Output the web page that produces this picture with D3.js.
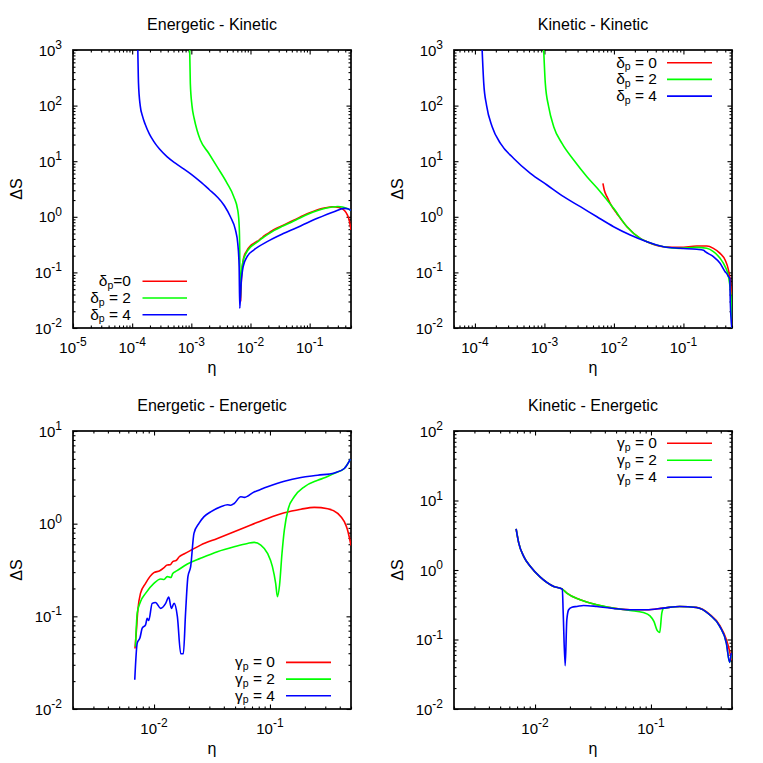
<!DOCTYPE html>
<html>
<head>
<meta charset="utf-8">
<script src="https://cdn.jsdelivr.net/npm/d3@7"></script>
<style>
body { margin: 0; background: #fff; }
svg { font-family: "Liberation Sans", Arial, Helvetica, sans-serif; }
text { white-space: pre; }
</style>
</head>
<body>
<script>
// values as [eta, deltaS]

// Energetic - Kinetic
const ekD0 = [[6.8e-3, 0.03], [7.0e-3, 0.07], [7.25e-3, 0.12], [7.64e-3, 0.18], [8.45e-3, 0.235], [9.97e-3, 0.3], [0.0112, 0.33], [0.0122, 0.35], [0.013, 0.365], [0.0138, 0.375], [0.0148, 0.405], [0.0158, 0.42], [0.0168, 0.45], [0.0181, 0.475], [0.021, 0.525], [0.0252, 0.59], [0.0352, 0.7], [0.0491, 0.83], [0.0684, 0.98], [0.0953, 1.16], [0.133, 1.33], [0.185, 1.45], [0.241, 1.52], [0.315, 1.47], [0.384, 1.31], [0.438, 1.06], [0.465, 0.88], [0.485, 0.7], [0.5, 0.58]];
const ekD2 = [[9.38e-4, 1000], [9.62e-4, 251], [1.026e-3, 100], [1.12e-3, 58], [1.25e-3, 36], [1.42e-3, 24], [1.97e-3, 13.9], [2.72e-3, 7.98], [4.03e-3, 4.0], [5.22e-3, 2.3], [6.09e-3, 1.32], [6.45e-3, 0.664], [6.58e-3, 0.25], [6.63e-3, 0.06], [6.7e-3, 0.03], [6.85e-3, 0.06], [7.1e-3, 0.11], [7.5e-3, 0.16], [8.3e-3, 0.215], [9.97e-3, 0.285], [0.0115, 0.32], [0.013, 0.35], [0.0145, 0.385], [0.0162, 0.42], [0.0181, 0.455], [0.0252, 0.57], [0.0352, 0.68], [0.0491, 0.8], [0.0684, 0.95], [0.0953, 1.12], [0.133, 1.29], [0.185, 1.42], [0.241, 1.5], [0.3, 1.53], [0.36, 1.5], [0.42, 1.42], [0.5, 1.3]];
const ekD4 = [[1.247e-4, 1000], [1.28e-4, 251], [1.368e-4, 100], [1.5e-4, 64], [1.66e-4, 46], [1.95e-4, 31], [2.3e-4, 23], [2.9e-4, 16.5], [3.87e-4, 12.1], [5.3e-4, 9.3], [7.41e-4, 7.3], [1.0e-3, 5.8], [1.42e-3, 4.28], [2.0e-3, 3.1], [2.72e-3, 2.3], [3.6e-3, 1.6], [4.58e-3, 1.0], [5.57e-3, 0.58], [6.09e-3, 0.333], [6.43e-3, 0.127], [6.59e-3, 0.0226], [6.95e-3, 0.0635], [7.52e-3, 0.127], [8.77e-3, 0.192], [0.0114, 0.253], [0.0191, 0.357], [0.0367, 0.505], [0.0703, 0.684], [0.135, 0.938], [0.258, 1.236], [0.382, 1.42], [0.44, 1.4], [0.5, 1.3]];

// Kinetic - Kinetic
const kkD0 = [[6.95e-3, 4.0], [7.26e-3, 3.03], [7.94e-3, 2.3], [9.38e-3, 1.52], [0.011, 1.15], [0.0154, 0.664], [0.0239, 0.41], [0.0298, 0.357], [0.0518, 0.29], [0.0897, 0.282], [0.156, 0.298], [0.217, 0.298], [0.27, 0.271], [0.337, 0.22], [0.398, 0.167], [0.445, 0.11], [0.47, 0.073], [0.485, 0.05], [0.497, 0.04]];
const kkD2 = [[9.77e-4, 1000], [1.03e-3, 251], [1.15e-3, 95.7], [1.36e-3, 41.8], [1.79e-3, 20.9], [2.64e-3, 10.5], [4.09e-3, 5.26], [6.37e-3, 2.83], [9.89e-3, 1.42], [0.0154, 0.664], [0.0239, 0.41], [0.0298, 0.357], [0.0518, 0.29], [0.0897, 0.271], [0.156, 0.282], [0.217, 0.271], [0.27, 0.236], [0.337, 0.179], [0.398, 0.127], [0.445, 0.0838], [0.485, 0.0319], [0.497, 0.0101]];
const kkD4 = [[1.27e-4, 1000], [1.34e-4, 251], [1.47e-4, 101], [1.77e-4, 41.8], [2.33e-4, 20.9], [3.62e-4, 11.2], [6.28e-4, 6.04], [1.09e-3, 3.73], [1.89e-3, 2.3], [3.29e-3, 1.52], [5.7e-3, 1.0], [9.89e-3, 0.664], [0.0172, 0.471], [0.0298, 0.357], [0.0518, 0.29], [0.0897, 0.271], [0.156, 0.26], [0.195, 0.25], [0.206, 0.236], [0.27, 0.192], [0.337, 0.146], [0.398, 0.103], [0.42, 0.095], [0.445, 0.084], [0.465, 0.078], [0.472, 0.032], [0.497, 0.0101]];

// Energetic - Energetic
const eeG0 = [[6.85e-3, 0.045], [7.02e-3, 0.0658], [7.25e-3, 0.117], [7.64e-3, 0.177], [8.45e-3, 0.227], [9.97e-3, 0.296], [0.0112, 0.31], [0.0122, 0.335], [0.013, 0.358], [0.0138, 0.36], [0.0145, 0.39], [0.0155, 0.4], [0.0165, 0.44], [0.0181, 0.47], [0.021, 0.52], [0.0252, 0.587], [0.0352, 0.693], [0.0491, 0.818], [0.0684, 0.966], [0.0953, 1.14], [0.133, 1.31], [0.185, 1.43], [0.241, 1.5], [0.315, 1.45], [0.384, 1.29], [0.438, 1.05], [0.465, 0.87], [0.485, 0.7], [0.5, 0.58]];
const eeG2 = [[6.92e-3, 0.047], [7.16e-3, 0.108], [7.64e-3, 0.144], [8.45e-3, 0.177], [9.97e-3, 0.227], [0.0114, 0.253], [0.0122, 0.25], [0.013, 0.268], [0.014, 0.262], [0.0145, 0.29], [0.0158, 0.311], [0.0194, 0.367], [0.0252, 0.423], [0.0352, 0.499], [0.0491, 0.564], [0.064, 0.612], [0.073, 0.628], [0.0834, 0.588], [0.0953, 0.479], [0.105, 0.344], [0.112, 0.227], [0.116, 0.163], [0.121, 0.218], [0.127, 0.479], [0.133, 0.853], [0.144, 1.46], [0.162, 1.95], [0.198, 2.5], [0.258, 2.94], [0.3, 3.15], [0.36, 3.5], [0.438, 3.94], [0.494, 4.96]];
const eeG4 = [[6.82e-3, 0.0207], [7.16e-3, 0.0514], [7.55e-3, 0.0582], [7.91e-3, 0.0745], [8.45e-3, 0.0809], [8.73e-3, 0.0955], [9.0e-3, 0.09], [9.64e-3, 0.138], [0.0103, 0.141], [0.0114, 0.122], [0.0126, 0.138], [0.0134, 0.161], [0.0141, 0.122], [0.0149, 0.138], [0.0159, 0.0995], [0.017, 0.0394], [0.0179, 0.0394], [0.0187, 0.108], [0.0196, 0.268], [0.0207, 0.344], [0.0221, 0.785], [0.0244, 1.006], [0.027, 1.19], [0.0308, 1.34], [0.0376, 1.52], [0.043, 1.6], [0.046, 1.58], [0.0491, 1.65], [0.056, 1.95], [0.06, 1.92], [0.073, 2.2], [0.08, 2.3], [0.0953, 2.5], [0.133, 2.87], [0.185, 3.15], [0.258, 3.33], [0.36, 3.53], [0.438, 3.94], [0.494, 4.96]];

// Kinetic - Energetic
const keG0 = [[6.87e-3, 3.91], [7.24e-3, 2.43], [8.0e-3, 1.56], [9.12e-3, 1.12], [0.0111, 0.789], [0.0145, 0.579], [0.0172, 0.531], [0.0188, 0.465], [0.0245, 0.373], [0.0341, 0.316], [0.0474, 0.283], [0.066, 0.268], [0.0918, 0.268], [0.128, 0.283], [0.177, 0.299], [0.247, 0.29], [0.321, 0.23], [0.392, 0.16], [0.447, 0.1], [0.475, 0.07], [0.49, 0.055], [0.497, 0.05]];
const keG2 = [[6.87e-3, 3.91], [7.24e-3, 2.43], [8.0e-3, 1.56], [9.12e-3, 1.12], [0.0111, 0.789], [0.0145, 0.579], [0.0172, 0.531], [0.0188, 0.465], [0.0245, 0.373], [0.0341, 0.316], [0.0474, 0.283], [0.066, 0.262], [0.0859, 0.245], [0.0981, 0.219], [0.106, 0.182], [0.113, 0.135], [0.119, 0.126], [0.124, 0.24], [0.129, 0.283], [0.177, 0.299], [0.247, 0.289], [0.321, 0.227], [0.392, 0.154], [0.447, 0.0889], [0.477, 0.0469], [0.493, 0.06]];
const keG4 = [[6.87e-3, 3.91], [7.24e-3, 2.43], [8.0e-3, 1.56], [9.12e-3, 1.12], [0.0111, 0.789], [0.0145, 0.579], [0.0172, 0.531], [0.0175, 0.24], [0.0182, 0.042], [0.0188, 0.192], [0.0195, 0.268], [0.0208, 0.292], [0.023, 0.299], [0.0262, 0.309], [0.0341, 0.299], [0.0474, 0.28], [0.066, 0.268], [0.0918, 0.268], [0.128, 0.283], [0.177, 0.299], [0.247, 0.289], [0.321, 0.227], [0.392, 0.154], [0.447, 0.0889], [0.477, 0.0469], [0.493, 0.0638]];

// tick exponents
const ekXTicks = [-5, -4, -3, -2, -1];
const kkXTicks = [-4, -3, -2, -1];
const eXTicks = [-2, -1];
const yTicksTop = [-2, -1, 0, 1, 2, 3];
const eeYTicks = [-2, -1, 0, 1];
const keYTicks = [-2, -1, 0, 1, 2];

const deltaLegend = [['δ', '=0'], ['δ', ' = 2'], ['δ', ' = 4']];
const deltaLegend2 = [['δ', ' = 0'], ['δ', ' = 2'], ['δ', ' = 4']];
const gammaLegend = [['γ', ' = 0'], ['γ', ' = 2'], ['γ', ' = 4']];

const plotSize = 278;
const colours = ['#ff0000', '#00ff00', '#0000ff'];

const panels = [
	{title: 'Energetic - Kinetic', left: 73, top: 50, xDomain: [1e-5, 0.5], yDomain: [1e-2, 1e3],
		xTicks: ekXTicks, yTicks: yTicksTop, series: [ekD0, ekD2, ekD4], legend: deltaLegend,
		textRight: 58, lineX: [69.5, 114], rowY: 231.3, rowStep: 16.7},
	{title: 'Kinetic - Kinetic', left: 454, top: 50, xDomain: [5e-5, 0.5], yDomain: [1e-2, 1e3],
		xTicks: kkXTicks, yTicks: yTicksTop, series: [kkD0, kkD2, kkD4], legend: deltaLegend2,
		textRight: 203, lineX: [213, 258], rowY: 12.7, rowStep: 16.7},
	{title: 'Energetic - Energetic', left: 73, top: 431, xDomain: [2e-3, 0.5], yDomain: [1e-2, 1e1],
		xTicks: eXTicks, yTicks: eeYTicks, series: [eeG0, eeG2, eeG4], legend: gammaLegend,
		textRight: 202, lineX: [213, 258], rowY: 231.4, rowStep: 16.7},
	{title: 'Kinetic - Energetic', left: 454, top: 431, xDomain: [2e-3, 0.5], yDomain: [1e-2, 1e2],
		xTicks: eXTicks, yTicks: keYTicks, series: [keG0, keG2, keG4], legend: gammaLegend,
		textRight: 203, lineX: [213, 258], rowY: 12.3, rowStep: 17}
];

const svg = d3.select('body').append('svg')
	.attr('width', 763)
	.attr('height', 763);

function minorTicks(domain) { //2..9 times each decade inside the domain
	const out = [];
	for (let k = Math.floor(Math.log10(domain[0])); k <= Math.ceil(Math.log10(domain[1])); k++) {
		for (let m = 2; m <= 9; m++) {
			const v = m * Math.pow(10, k);
			if (v >= domain[0] * 0.999 && v <= domain[1] * 1.001) out.push(v);
		}
	}
	return out;
}

function powerLabel(text, e) {
	text.append('tspan').text('10');
	text.append('tspan').attr('dy', -6.5).attr('font-size', 12).text(String(e));
}

panels.forEach((p, idx) => {
	const x = d3.scaleLog().domain(p.xDomain).range([0, plotSize]);
	const y = d3.scaleLog().domain(p.yDomain).range([plotSize, 0]);
	const g = svg.append('g').attr('transform', `translate(${p.left},${p.top})`);

	g.append('clipPath').attr('id', 'clip' + idx)
		.append('rect').attr('width', plotSize).attr('height', plotSize);

	const xMajor = p.xTicks.map(e => Math.pow(10, e));
	const yMajor = p.yTicks.map(e => Math.pow(10, e));
	const xMinor = minorTicks(p.xDomain);
	const yMinor = minorTicks(p.yDomain);

	//ticks on all four sides, pointing inward
	const axes = [
		[d3.axisBottom, x, `translate(0,${plotSize})`],
		[d3.axisTop, x, 'translate(0,0)'],
		[d3.axisLeft, y, 'translate(0,0)'],
		[d3.axisRight, y, `translate(${plotSize},0)`]
	];
	axes.forEach(([axisFn, scale, tr]) => {
		const major = scale === x ? xMajor : yMajor;
		const minor = scale === x ? xMinor : yMinor;
		[[major, 4.5], [minor, 2.5]].forEach(([vals, len]) => {
			g.append('g')
				.attr('transform', tr)
				.call(axisFn(scale).tickValues(vals).tickSize(-len).tickSizeOuter(0).tickFormat(''))
				.call(a => a.select('.domain').remove())
				.call(a => a.selectAll('line').attr('stroke', '#000').attr('stroke-width', 1.1))
				.call(a => a.selectAll('text').remove());
		});
	});

	g.append('rect')
		.attr('width', plotSize)
		.attr('height', plotSize)
		.attr('fill', 'none')
		.attr('stroke', '#000')
		.attr('stroke-width', 1.7);

	//tick labels
	p.xTicks.forEach(e => {
		g.append('text')
			.attr('x', x(Math.pow(10, e)))
			.attr('y', plotSize + 24.5)
			.attr('text-anchor', 'middle')
			.attr('font-size', 15)
			.call(t => powerLabel(t, e));
	});
	p.yTicks.forEach(e => {
		g.append('text')
			.attr('x', -11)
			.attr('y', y(Math.pow(10, e)) + 5.5)
			.attr('text-anchor', 'end')
			.attr('font-size', 15)
			.call(t => powerLabel(t, e));
	});

	g.append('text') //title
		.attr('x', plotSize / 2)
		.attr('y', -20)
		.attr('text-anchor', 'middle')
		.attr('font-size', 16)
		.text(p.title);

	g.append('text') //x label
		.attr('x', plotSize / 2)
		.attr('y', plotSize + 45)
		.attr('text-anchor', 'middle')
		.attr('font-size', 16)
		.text('η');

	g.append('text') //y label
		.attr('transform', `translate(-57,${plotSize / 2}) rotate(-90)`)
		.attr('dy', '0.35em')
		.attr('text-anchor', 'middle')
		.attr('font-size', 16)
		.text('ΔS');

	const line = d3.line()
		.curve(d3.curveMonotoneX)
		.x(d => x(d[0]))
		.y(d => y(d[1]));

	g.append('g').attr('clip-path', `url(#clip${idx})`)
		.selectAll('path')
		.data(p.series)
		.enter()
		.append('path')
		.attr('d', line)
		.attr('fill', 'none')
		.attr('stroke', (d, i) => colours[i])
		.attr('stroke-width', 1.6)
		.attr('stroke-linejoin', 'round');

	//legend
	p.legend.forEach((lab, i) => {
		const ry = p.rowY + i * p.rowStep;
		const t = g.append('text')
			.attr('x', p.textRight)
			.attr('y', ry + 5)
			.attr('text-anchor', 'end')
			.attr('font-size', 15.5);
		t.append('tspan').text(lab[0]);
		t.append('tspan').attr('dy', 2.5).attr('font-size', 10.5).text('p');
		t.append('tspan').attr('dy', -2.5).text(lab[1]);
		g.append('line')
			.attr('x1', p.lineX[0])
			.attr('x2', p.lineX[1])
			.attr('y1', ry)
			.attr('y2', ry)
			.attr('stroke', colours[i])
			.attr('stroke-width', 1.6);
	});
});
</script>
</body>
</html>
